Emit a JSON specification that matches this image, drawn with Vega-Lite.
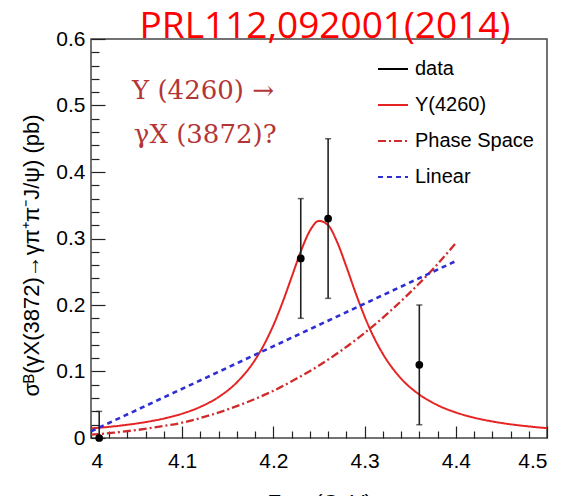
{
  "$schema": "https://vega.github.io/schema/vega-lite/v6.json",
  "width": 456,
  "height": 399,
  "autosize": {"type": "none"},
  "padding": {"left": 91, "top": 39, "right": 17, "bottom": 58},
  "background": "white",
  "title": {
    "text": "PRL112,092001(2014)",
    "color": "#ff0000",
    "font": "Open Sans",
    "fontSize": 37,
    "fontWeight": "normal",
    "anchor": "middle",
    "frame": "group",
    "baseline": "alphabetic",
    "offset": 2,
    "dx": 6,
    "dy": 49
  },
  "config": {
    "view": {"stroke": "#444444", "strokeWidth": 1.5},
    "axis": {
      "domain": false,
      "grid": false,
      "tickColor": "#222222",
      "tickWidth": 1.2,
      "labelColor": "black",
      "titleColor": "black",
      "labelFont": "Liberation Sans",
      "titleFont": "Liberation Sans",
      "labelFontSize": 21,
      "titleFontSize": 21,
      "titleFontWeight": "normal"
    },
    "legend": {
      "orient": "none",
      "legendX": 286,
      "legendY": 14,
      "symbolType": "stroke",
      "symbolSize": 900,
      "symbolStrokeWidth": 2,
      "labelFont": "Liberation Sans",
      "labelFontSize": 20,
      "labelColor": "black",
      "labelOffset": 6,
      "rowPadding": 10
    }
  },
  "datasets": {
    "curves": [
      {"series": "Y(4260)", "x": 4.00, "y": 0.0144},
      {"series": "Y(4260)", "x": 4.02, "y": 0.0168},
      {"series": "Y(4260)", "x": 4.04, "y": 0.0199},
      {"series": "Y(4260)", "x": 4.06, "y": 0.0240},
      {"series": "Y(4260)", "x": 4.08, "y": 0.0293},
      {"series": "Y(4260)", "x": 4.10, "y": 0.0366},
      {"series": "Y(4260)", "x": 4.12, "y": 0.0469},
      {"series": "Y(4260)", "x": 4.14, "y": 0.0617},
      {"series": "Y(4260)", "x": 4.16, "y": 0.0838},
      {"series": "Y(4260)", "x": 4.18, "y": 0.1177},
      {"series": "Y(4260)", "x": 4.19, "y": 0.1411},
      {"series": "Y(4260)", "x": 4.20, "y": 0.1697},
      {"series": "Y(4260)", "x": 4.21, "y": 0.2038},
      {"series": "Y(4260)", "x": 4.22, "y": 0.2420},
      {"series": "Y(4260)", "x": 4.23, "y": 0.2804},
      {"series": "Y(4260)", "x": 4.24, "y": 0.3116},
      {"series": "Y(4260)", "x": 4.25, "y": 0.3265},
      {"series": "Y(4260)", "x": 4.26, "y": 0.3200},
      {"series": "Y(4260)", "x": 4.27, "y": 0.2943},
      {"series": "Y(4260)", "x": 4.28, "y": 0.2577},
      {"series": "Y(4260)", "x": 4.29, "y": 0.2187},
      {"series": "Y(4260)", "x": 4.30, "y": 0.1827},
      {"series": "Y(4260)", "x": 4.31, "y": 0.1518},
      {"series": "Y(4260)", "x": 4.32, "y": 0.1265},
      {"series": "Y(4260)", "x": 4.34, "y": 0.0894},
      {"series": "Y(4260)", "x": 4.36, "y": 0.0654},
      {"series": "Y(4260)", "x": 4.38, "y": 0.0494},
      {"series": "Y(4260)", "x": 4.40, "y": 0.0384},
      {"series": "Y(4260)", "x": 4.42, "y": 0.0306},
      {"series": "Y(4260)", "x": 4.44, "y": 0.0249},
      {"series": "Y(4260)", "x": 4.46, "y": 0.0206},
      {"series": "Y(4260)", "x": 4.48, "y": 0.0174},
      {"series": "Y(4260)", "x": 4.50, "y": 0.0148},
      {"series": "Phase Space", "x": 4.000, "y": 0.005},
      {"series": "Phase Space", "x": 4.025, "y": 0.008},
      {"series": "Phase Space", "x": 4.050, "y": 0.012},
      {"series": "Phase Space", "x": 4.075, "y": 0.017},
      {"series": "Phase Space", "x": 4.100, "y": 0.023},
      {"series": "Phase Space", "x": 4.125, "y": 0.032},
      {"series": "Phase Space", "x": 4.150, "y": 0.043},
      {"series": "Phase Space", "x": 4.175, "y": 0.056},
      {"series": "Phase Space", "x": 4.200, "y": 0.071},
      {"series": "Phase Space", "x": 4.225, "y": 0.089},
      {"series": "Phase Space", "x": 4.250, "y": 0.109},
      {"series": "Phase Space", "x": 4.275, "y": 0.132},
      {"series": "Phase Space", "x": 4.300, "y": 0.158},
      {"series": "Phase Space", "x": 4.325, "y": 0.187},
      {"series": "Phase Space", "x": 4.350, "y": 0.219},
      {"series": "Phase Space", "x": 4.375, "y": 0.254},
      {"series": "Phase Space", "x": 4.400, "y": 0.293},
      {"series": "Linear", "x": 4.0, "y": 0.010},
      {"series": "Linear", "x": 4.4, "y": 0.266}
    ],
    "points": [
      {"series": "data", "x": 4.009, "y": 0.0, "lo": 0.0, "hi": 0.04},
      {"series": "data", "x": 4.23, "y": 0.27, "lo": 0.18, "hi": 0.36},
      {"series": "data", "x": 4.26, "y": 0.33, "lo": 0.21, "hi": 0.45},
      {"series": "data", "x": 4.36, "y": 0.11, "lo": 0.02, "hi": 0.20}
    ],
    "notes": [
      {"label": "Y (4260) →", "x": 4.045, "y": 0.51},
      {"label": "γX (3872)?", "x": 4.047, "y": 0.444}
    ]
  },
  "resolve": {"axis": {"x": "independent", "y": "independent"}},
  "layer": [
    {
      "data": {"name": "curves"},
      "mark": {"type": "line", "interpolate": "monotone"},
      "encoding": {
        "x": {"field": "x", "type": "quantitative",
          "scale": {"domain": [4, 4.5], "nice": false, "zero": false},
          "axis": {"orient": "bottom", "values": [4, 4.1, 4.2, 4.3, 4.4, 4.5], "format": ".1~f", "tickSize": -12, "labelPadding": 24, "title": "Ecm (GeV)", "titleBaseline": "top", "titleY": 53, "titleX": 228, "titleAlign": "center"}},
        "y": {"field": "y", "type": "quantitative",
          "scale": {"domain": [0, 0.6], "nice": false, "zero": false},
          "axis": {"orient": "left", "values": [0, 0.1, 0.2, 0.3, 0.4, 0.5, 0.6], "format": ".1~f", "tickSize": -14, "labelPadding": 20, "title": "σᴮ(γX(3872)→γπ⁺π⁻J/ψ) (pb)", "titleFontSize": 22, "titleAngle": -90, "titleAlign": "center", "titleBaseline": "middle", "titleX": -60, "titleY": 216}},
        "color": {"field": "series", "type": "nominal",
          "scale": {"domain": ["data", "Y(4260)", "Phase Space", "Linear"], "range": ["black", "#e62323", "#cf2b2b", "#2e2ed4"]},
          "legend": {"title": null}},
        "strokeDash": {"field": "series", "type": "nominal",
          "scale": {"domain": ["data", "Y(4260)", "Phase Space", "Linear"], "range": [[1, 0], [1, 0], [8, 3, 2, 3], [5, 4]]},
          "legend": {"title": null}},
        "strokeWidth": {"field": "series", "type": "nominal",
          "scale": {"domain": ["Y(4260)", "Phase Space", "Linear"], "range": [2, 2.6, 2]},
          "legend": null}
      }
    },
    {
      "data": {"name": "points"},
      "mark": {"type": "rule", "color": "#222222", "strokeWidth": 1.6},
      "encoding": {
        "x": {"field": "x", "type": "quantitative",
          "scale": {"domain": [4, 4.5], "nice": false, "zero": false},
          "axis": {"orient": "bottom", "values": [4.02, 4.04, 4.06, 4.08, 4.12, 4.14, 4.16, 4.18, 4.22, 4.24, 4.26, 4.28, 4.32, 4.34, 4.36, 4.38, 4.42, 4.44, 4.46, 4.48], "labels": false, "tickSize": -7, "title": null}},
        "y": {"field": "lo", "type": "quantitative",
          "scale": {"domain": [0, 0.6], "nice": false, "zero": false},
          "axis": {"orient": "left", "values": [0.02, 0.04, 0.06, 0.08, 0.12, 0.14, 0.16, 0.18, 0.22, 0.24, 0.26, 0.28, 0.32, 0.34, 0.36, 0.38, 0.42, 0.44, 0.46, 0.48, 0.52, 0.54, 0.56, 0.58], "labels": false, "tickSize": -8, "title": null}},
        "y2": {"field": "hi"}
      }
    },
    {
      "data": {"name": "points"},
      "mark": {"type": "tick", "orient": "horizontal", "color": "#222222", "size": 6, "thickness": 1.5},
      "encoding": {
        "x": {"field": "x", "type": "quantitative", "scale": {"domain": [4, 4.5], "nice": false, "zero": false}, "axis": null},
        "y": {"field": "hi", "type": "quantitative", "scale": {"domain": [0, 0.6], "nice": false, "zero": false}, "axis": null}
      }
    },
    {
      "data": {"name": "points"},
      "mark": {"type": "tick", "orient": "horizontal", "color": "#222222", "size": 6, "thickness": 1.5},
      "encoding": {
        "x": {"field": "x", "type": "quantitative", "scale": {"domain": [4, 4.5], "nice": false, "zero": false}, "axis": null},
        "y": {"field": "lo", "type": "quantitative", "scale": {"domain": [0, 0.6], "nice": false, "zero": false}, "axis": null}
      }
    },
    {
      "data": {"name": "points"},
      "mark": {"type": "point", "filled": true, "size": 60, "opacity": 1},
      "encoding": {
        "x": {"field": "x", "type": "quantitative", "scale": {"domain": [4, 4.5], "nice": false, "zero": false}, "axis": null},
        "y": {"field": "y", "type": "quantitative", "scale": {"domain": [0, 0.6], "nice": false, "zero": false}, "axis": null},
        "color": {"field": "series", "type": "nominal",
          "scale": {"domain": ["data", "Y(4260)", "Phase Space", "Linear"], "range": ["black", "#e62323", "#cf2b2b", "#2e2ed4"]},
          "legend": {"title": null}}
      }
    },
    {
      "data": {"name": "notes"},
      "mark": {"type": "text", "align": "left", "baseline": "alphabetic", "font": "DejaVu Serif", "fontSize": 26, "color": "#b33636"},
      "encoding": {
        "x": {"field": "x", "type": "quantitative", "scale": {"domain": [4, 4.5], "nice": false, "zero": false}, "axis": null},
        "y": {"field": "y", "type": "quantitative", "scale": {"domain": [0, 0.6], "nice": false, "zero": false}, "axis": null},
        "text": {"field": "label"}
      }
    }
  ]
}
